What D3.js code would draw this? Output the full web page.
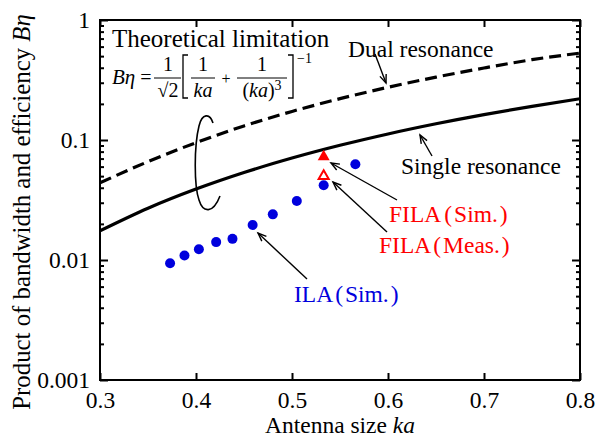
<!DOCTYPE html>
<html>
<head>
<meta charset="utf-8">
<script src="https://cdn.jsdelivr.net/npm/d3@7"></script>
<style>
  body { margin: 0; background: #fff; }
  svg { display: block; font-family: 'Liberation Serif', 'Times New Roman', serif; }
</style>
</head>
<body>
<div id="container"></div>
<script>
const w = 600;
const h = 442;
const padLeft = 100;
const padRight = 20;
const padTop = 20;
const padBottom = 62;
const fontSize = '23.5px';

// theoretical curves
const kaCurve = [0.30, 0.35, 0.40, 0.45, 0.50, 0.55, 0.60, 0.65, 0.70, 0.75, 0.80];
const singleRes = [0.0175, 0.0270, 0.0390, 0.0536, 0.0707, 0.0903, 0.1123, 0.1365, 0.1628, 0.1909, 0.2208];
const dualRes = [0.044, 0.066, 0.095, 0.131, 0.173, 0.221, 0.275, 0.334, 0.398, 0.467, 0.530];

// simulated / measured points
const ilaKa = [0.373, 0.388, 0.403, 0.421, 0.438, 0.459, 0.480, 0.505, 0.533, 0.566];
const ilaVal = [0.0094, 0.0109, 0.0123, 0.0141, 0.0150, 0.0196, 0.0240, 0.0310, 0.0419, 0.0627];
const filaSimKa = [0.533];
const filaSimVal = [0.074];
const filaMeasKa = [0.533];
const filaMeasVal = [0.051];

const xTicks = [0.3, 0.4, 0.5, 0.6, 0.7, 0.8];
const yTicks = [0.001, 0.01, 0.1, 1];
const yTickLabels = ['0.001', '0.01', '0.1', '1'];

const red = '#ff0000';
const blue = '#0000dd';

const svg = d3.select('#container')
  .append('svg')
  .attr('width', w)
  .attr('height', h);

const xScale = d3.scaleLinear()
  .domain([0.3, 0.8])
  .range([padLeft, w - padRight]);
const yScale = d3.scaleLog()
  .domain([0.001, 1])
  .range([h - padBottom, padTop]);

const minorY = [];
[0.001, 0.01, 0.1].forEach(d => {
  for (let k = 2; k <= 9; k++) minorY.push(d * k);
});

// axes with inward ticks, mirrored on top / right
const axisStyle = g => {
  g.attr('font-family', null).attr('font-size', null);
  g.select('.domain').remove();
  g.selectAll('line').attr('stroke', '#000').attr('stroke-width', 2);
  g.selectAll('text').attr('fill', '#000').style('font-size', fontSize);
};
svg.append('g')
  .attr('transform', `translate(0,${h - padBottom})`)
  .call(d3.axisBottom(xScale).tickValues(xTicks).tickSize(-7).tickPadding(11).tickFormat(d3.format('.1f')))
  .call(axisStyle);
svg.append('g')
  .attr('transform', `translate(0,${padTop})`)
  .call(d3.axisTop(xScale).tickValues(xTicks).tickSize(-7).tickFormat(''))
  .call(axisStyle);
svg.append('g')
  .attr('transform', `translate(${padLeft},0)`)
  .call(d3.axisLeft(yScale).tickValues(yTicks).tickSize(-8).tickPadding(10).tickFormat((d, i) => yTickLabels[i]))
  .call(axisStyle);
svg.append('g')
  .attr('transform', `translate(${padLeft},0)`)
  .call(d3.axisLeft(yScale).tickValues(minorY).tickSize(-4).tickFormat(''))
  .call(axisStyle);
svg.append('g')
  .attr('transform', `translate(${w - padRight},0)`)
  .call(d3.axisRight(yScale).tickValues(yTicks).tickSize(-8).tickFormat(''))
  .call(axisStyle);
svg.append('g')
  .attr('transform', `translate(${w - padRight},0)`)
  .call(d3.axisRight(yScale).tickValues(minorY).tickSize(-4).tickFormat(''))
  .call(axisStyle);

svg.append('rect')
  .attr('x', padLeft)
  .attr('y', padTop)
  .attr('width', w - padLeft - padRight)
  .attr('height', h - padTop - padBottom)
  .attr('fill', 'none')
  .attr('stroke', '#000')
  .attr('stroke-width', 2);

// curves
svg.append('clipPath').attr('id', 'clip')
  .append('rect')
  .attr('x', padLeft).attr('y', padTop)
  .attr('width', w - padLeft - padRight).attr('height', h - padTop - padBottom);

const line = d3.line()
  .x(d => xScale(d[0]))
  .y(d => yScale(d[1]))
  .curve(d3.curveMonotoneX);

svg.append('path')
  .attr('d', line(kaCurve.map((k, i) => [k, singleRes[i]])))
  .attr('clip-path', 'url(#clip)')
  .attr('fill', 'none')
  .attr('stroke', '#000')
  .attr('stroke-width', 3.2);
svg.append('path')
  .attr('d', line(kaCurve.map((k, i) => [k, dualRes[i]])))
  .attr('clip-path', 'url(#clip)')
  .attr('fill', 'none')
  .attr('stroke', '#000')
  .attr('stroke-width', 3.2)
  .attr('stroke-dasharray', '12,6');

// points
svg.selectAll('circle.ila')
  .data(ilaKa.map((k, i) => [k, ilaVal[i]]))
  .enter()
  .append('circle')
  .attr('class', 'ila')
  .attr('cx', d => xScale(d[0]))
  .attr('cy', d => yScale(d[1]))
  .attr('r', 5)
  .attr('fill', blue);

svg.selectAll('path.filaSim')
  .data(filaSimKa.map((k, i) => [k, filaSimVal[i]]))
  .enter()
  .append('path')
  .attr('class', 'filaSim')
  .attr('d', d3.symbol().type(d3.symbolTriangle).size(62))
  .attr('transform', d => `translate(${xScale(d[0])},${yScale(d[1]) + 1})`)
  .attr('fill', red);
svg.selectAll('path.filaMeas')
  .data(filaMeasKa.map((k, i) => [k, filaMeasVal[i]]))
  .enter()
  .append('path')
  .attr('class', 'filaMeas')
  .attr('d', d3.symbol().type(d3.symbolTriangle).size(44))
  .attr('transform', d => `translate(${xScale(d[0])},${yScale(d[1]) + 1})`)
  .attr('fill', '#fff')
  .attr('stroke', red)
  .attr('stroke-width', 2);

// arrows
const arrow = (x1, y1, x2, y2) => {
  const a = Math.atan2(y1 - y2, x1 - x2);
  const len = 9, sp = 0.38;
  svg.append('line')
    .attr('x1', x1).attr('y1', y1).attr('x2', x2).attr('y2', y2)
    .attr('stroke', '#000').attr('stroke-width', 1.4);
  svg.append('path')
    .attr('d', `M${x2 + len * Math.cos(a + sp)},${y2 + len * Math.sin(a + sp)}L${x2},${y2}L${x2 + len * Math.cos(a - sp)},${y2 + len * Math.sin(a - sp)}`)
    .attr('fill', 'none').attr('stroke', '#000').attr('stroke-width', 1.4);
};
arrow(375, 54, 386, 83);
arrow(432, 156, 420, 135);
arrow(397, 200, 331, 163);
arrow(387, 232, 333, 182);
arrow(307, 279, 258, 233);

// labels
const label = (x, y, parts, color, anchor, size) => {
  const t = svg.append('text')
    .attr('x', x).attr('y', y)
    .attr('fill', color || '#000')
    .attr('text-anchor', anchor || 'start')
    .style('font-size', size || fontSize);
  parts.forEach(p => {
    const s = t.append('tspan').text(p.t);
    if (p.dx) s.attr('dx', p.dx);
    if (p.i) s.style('font-style', 'italic');
  });
  return t;
};
label(112, 47, [{t: 'Theoretical limitation'}], '#000', 'start', '25px');
label(348, 57, [{t: 'Dual resonance'}]);
label(401, 174, [{t: 'Single resonance'}]);
label(389, 222, [{t: 'FILA'}, {t: '(', dx: 3}, {t: 'Sim.', dx: 2}, {t: ')', dx: 2}], red);
label(379, 253, [{t: 'FILA'}, {t: '(', dx: 2}, {t: 'Meas.', dx: 2}, {t: ')', dx: 2}], red);
label(294, 302, [{t: 'ILA'}, {t: '(', dx: 2}, {t: 'Sim.', dx: 2}, {t: ')', dx: 2}], blue);

// axis titles
label(340, 433, [{t: 'Antenna size '}, {t: 'ka', i: true}], '#000', 'middle');
label(0, 0, [{t: 'Product of bandwidth and efficiency '}, {t: 'Bη', i: true}], '#000', 'middle', '24.8px')
  .attr('transform', 'translate(30,212) rotate(-90)');

// formula
const eq = svg.append('g').style('font-size', '20px');
const eqText = (x, y, s, opts = {}) => eq.append('text')
  .attr('x', x).attr('y', y)
  .attr('text-anchor', opts.anchor || 'middle')
  .style('font-style', opts.italic ? 'italic' : 'normal')
  .style('font-size', opts.size ? opts.size + 'px' : null)
  .text(s);
const bar = (x1, x2, y) => eq.append('line')
  .attr('x1', x1).attr('x2', x2).attr('y1', y).attr('y2', y)
  .attr('stroke', '#000').attr('stroke-width', 1);
eqText(112, 84, 'Bη', {anchor: 'start', italic: true, size: 21});
eqText(146, 84, '=', {});
bar(154, 181, 78);
eqText(168, 71, '1');
eqText(168, 97, '√2');
eq.append('path').attr('d', 'M188,55H183V98H188').attr('fill', 'none').attr('stroke', '#000').attr('stroke-width', 1.3);
bar(191, 215, 78);
eqText(203, 71, '1');
eqText(203, 97, 'ka', {italic: true});
eqText(226, 84, '+', {size: 16});
bar(237, 287, 78);
eqText(262, 71, '1');
const den = eq.append('text').attr('x', 262).attr('y', 97).attr('text-anchor', 'middle');
den.append('tspan').text('(');
den.append('tspan').text('ka').style('font-style', 'italic');
den.append('tspan').text(')');
den.append('tspan').text('3').attr('dy', -7).style('font-size', '14px');
eq.append('path').attr('d', 'M288,55H293V98H288').attr('fill', 'none').attr('stroke', '#000').attr('stroke-width', 1.3);
eqText(297, 63, '−1', {anchor: 'start', size: 14});

// ellipse bracket grouping the two curves
svg.append('path')
  .attr('d', 'M213,123C210,113 202,113 199,126C194,146 194,186 199,200C203,213 213,214 220,196')
  .attr('fill', 'none')
  .attr('stroke', '#000')
  .attr('stroke-width', 1.6);
</script>
</body>
</html>
